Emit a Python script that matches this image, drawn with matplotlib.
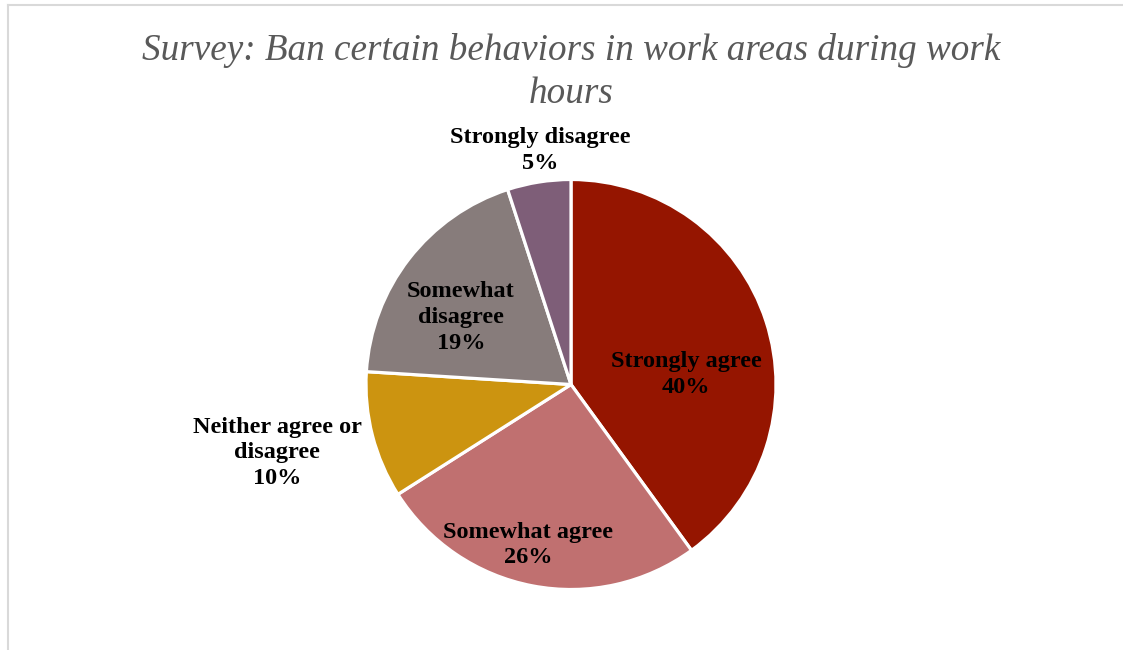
import matplotlib
matplotlib.use("Agg")
import matplotlib.pyplot as plt
from matplotlib.lines import Line2D

categories = ["Strongly agree", "Somewhat agree", "Neither agree or\ndisagree",
              "Somewhat\ndisagree", "Strongly disagree"]
shares = [40, 26, 10, 19, 5]
colors = ["#951500", "#C07070", "#CC9410", "#877C7B", "#7E5E78"]
# label centres, in units of the pie radius
label_pos = [(0.561, 0.049), (-0.21, -0.783), (-1.434, -0.334),
             (-0.537, 0.327), (-0.151, 1.141)]
title_lines = ["Survey: Ban certain behaviors in work areas during work", "hours"]

plt.rcParams["font.family"] = ["Liberation Serif", "DejaVu Serif"]

W, H = 1123, 650
cx, cy, r = 571, 384.5, 205

fig = plt.figure(figsize=(W / 100, H / 100), dpi=100)
ax = fig.add_axes([0, 0, 1, 1])

ax.pie(shares, colors=colors, startangle=90, counterclock=False, radius=1,
       wedgeprops=dict(edgecolor="white", linewidth=2.3))
ax.set_xlim(-cx / r, (W - cx) / r)
ax.set_ylim((cy - H) / r, cy / r)
ax.axis("off")

for cat, val, (x, y) in zip(categories, shares, label_pos):
    ax.text(x, y, f"{cat}\n{val}%", ha="center", va="center", fontsize=17.5,
            fontweight="bold", color="black", linespacing=1.3)

# title, two lines on fixed baselines
for line, base in zip(title_lines, [60, 103]):
    fig.text(571 / W, 1 - base / H, line, ha="center", va="baseline",
             fontsize=26.75, style="italic", color="#595959")

# partial chart frame
fig.add_artist(Line2D([7.5 / W, 7.5 / W], [0, 1 - 5 / H], transform=fig.transFigure,
                      color="#D9D9D9", linewidth=1.5))
fig.add_artist(Line2D([7.5 / W, 1], [1 - 5 / H, 1 - 5 / H], transform=fig.transFigure,
                      color="#D9D9D9", linewidth=1.5))

fig.savefig("out.png", dpi=100)
